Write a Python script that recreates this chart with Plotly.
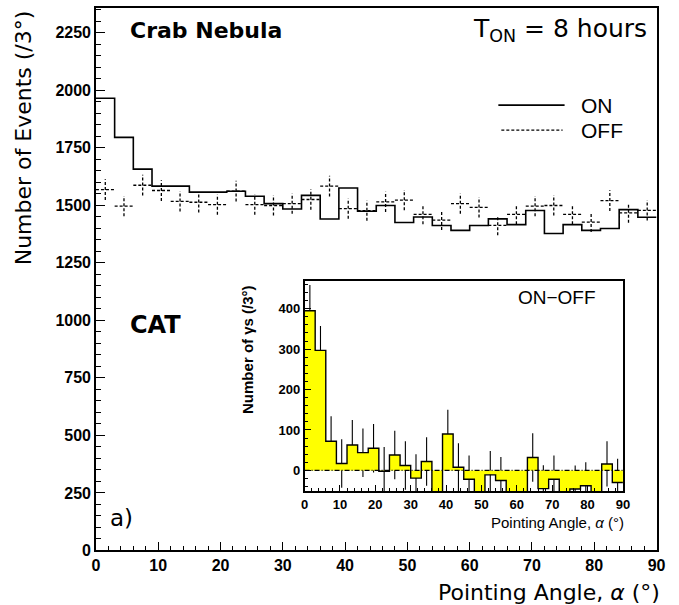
import plotly.graph_objects as go

# ---------------- data ----------------
angle_edges = [0, 3, 6, 9, 12, 15, 18, 21, 24, 27, 30, 33, 36, 39, 42, 45,
               48, 51, 54, 57, 60, 63, 66, 69, 72, 75, 78, 81, 84, 87, 90]

on_counts = [1965, 1795, 1657, 1583, 1583, 1557, 1557, 1561, 1539, 1507,
             1484, 1543, 1440, 1575, 1474, 1499, 1425, 1449, 1412, 1391,
             1412, 1441, 1416, 1477, 1377, 1416, 1391, 1399, 1481, 1448]

off_counts = [1568, 1496, 1587, 1564, 1517, 1513, 1503, 1561, 1503, 1499,
              1507, 1525, 1583, 1485, 1477, 1515, 1522, 1460, 1435, 1507,
              1491, 1413, 1460, 1496, 1499, 1460, 1427, 1520, 1467, 1478]

off_errors = [45, 44, 45, 45, 44, 44, 44, 45, 44, 44,
              44, 44, 45, 44, 44, 44, 44, 43, 43, 44,
              44, 43, 43, 44, 44, 43, 43, 45, 43, 44]

excess = [395, 297, 72, 17, 63, 44, 55, -2, 38, 12,
          -19, 22, -143, 90, 8, -22, -97, -11, -25, -116,
          -79, 32, -45, -22, -122, -46, -38, -121, 16, -30]

excess_errors = [64, 60, 62, 60, 62, 60, 60, 60, 60, 60,
                 59, 60, 59, 60, 59, 59, 59, 59, 58, 58,
                 58, 60, 58, 59, 58, 58, 58, 58, 56, 59]

main_yticks = [0, 250, 500, 750, 1000, 1250, 1500, 1750, 2000, 2250]
inset_yticks = [0, 100, 200, 300, 400]
xticks = [0, 10, 20, 30, 40, 50, 60, 70, 80, 90]

# ---------------- geometry helpers ----------------
W, H = 679, 605
KX, KY = 1.008, 1.016
def px(x):
    return min(1.0, x * KX / W)
def py(y):
    return max(0.0, 1 - y * KY / H)

FONT = "Liberation Sans"
TFONT = "DejaVu Sans"

fig = go.Figure()

# ON histogram (step line)
fig.add_trace(go.Scatter(
    x=angle_edges, y=on_counts + [on_counts[-1]],
    mode="lines", line=dict(color="black", width=1.6, shape="hv"),
    xaxis="x", yaxis="y", showlegend=False, hoverinfo="skip"))

# OFF histogram: dashed crosses
ox, oy = [], []
for i, v in enumerate(off_counts):
    lo, hi = angle_edges[i], angle_edges[i + 1]
    c = (lo + hi) / 2
    e = off_errors[i]
    ox += [lo, hi, None, c, c, None]
    oy += [v, v, None, v - e, v + e, None]
fig.add_trace(go.Scatter(
    x=ox, y=oy, mode="lines",
    line=dict(color="black", width=1.3, dash="3px,2px"),
    xaxis="x", yaxis="y", showlegend=False, hoverinfo="skip"))

# Inset: error bars first (covered by fill where overlapping)
ex, ey = [], []
for i, v in enumerate(excess):
    c = (angle_edges[i] + angle_edges[i + 1]) / 2
    e = excess_errors[i]
    ex += [c, c, None]
    ey += [v - e, v + e, None]
fig.add_trace(go.Scatter(
    x=ex, y=ey, mode="lines", line=dict(color="black", width=1.1),
    xaxis="x2", yaxis="y2", showlegend=False, hoverinfo="skip"))

# Inset: filled ON-OFF histogram
fig.add_trace(go.Scatter(
    x=angle_edges, y=excess + [excess[-1]],
    mode="lines", line=dict(color="black", width=1.4, shape="hv"),
    fill="tozeroy", fillcolor="#FFFF00",
    xaxis="x2", yaxis="y2", showlegend=False, hoverinfo="skip"))

# Inset: zero line (dash-dot)
fig.add_trace(go.Scatter(
    x=[angle_edges[0], angle_edges[-1]], y=[0, 0], mode="lines",
    line=dict(color="black", width=1.1, dash="5px,2px,1px,2px"),
    xaxis="x2", yaxis="y2", showlegend=False, hoverinfo="skip"))

axis_common = dict(showgrid=False, zeroline=False, showline=True, mirror=True,
                   linecolor="black", linewidth=1.5, ticks="inside",
                   tickcolor="black", tickwidth=1)

fig.update_layout(
    autosize=True,
    margin=dict(l=0, r=0, t=0, b=0),
    paper_bgcolor="white", plot_bgcolor="white",
    showlegend=False,
    xaxis=dict(domain=[px(93), px(660)], range=[0, 90], anchor="y",
               tickvals=xticks, ticklen=9,
               minor=dict(ticks="inside", ticklen=5, dtick=2, tick0=0,
                          tickcolor="black", tickwidth=1),
               tickfont=dict(family=FONT, size=16, color="black", weight="bold"),
               **axis_common),
    yaxis=dict(domain=[py(550), py(8)], range=[0, 2357], anchor="x",
               tickvals=main_yticks, ticklen=9,
               minor=dict(ticks="inside", ticklen=5, dtick=50, tick0=0,
                          tickcolor="black", tickwidth=1),
               tickfont=dict(family=FONT, size=16, color="black", weight="bold"),
               **axis_common),
    xaxis2=dict(domain=[px(304), px(626)], range=[0, 90], anchor="y2",
                tickvals=xticks, ticklen=7,
                minor=dict(ticks="inside", ticklen=4, dtick=2, tick0=0,
                           tickcolor="black", tickwidth=1),
                tickfont=dict(family=FONT, size=13, color="black", weight="bold"),
                **axis_common),
    yaxis2=dict(domain=[py(491), py(281)], range=[-52, 468], anchor="x2",
                tickvals=inset_yticks, ticklen=7,
                minor=dict(ticks="inside", ticklen=4, dtick=20, tick0=0,
                           tickcolor="black", tickwidth=1),
                tickfont=dict(family=FONT, size=13, color="black", weight="bold"),
                **axis_common),
)

ann = []
def text(x, y, s, size, xanchor="left", yanchor="middle", bold=False, angle=0,
         family=FONT):
    ann.append(dict(x=px(x), y=py(y), xref="paper", yref="paper", text=s,
                    showarrow=False, xanchor=xanchor, yanchor=yanchor,
                    textangle=angle,
                    font=dict(family=family, size=size, color="black",
                              weight="bold" if bold else "normal")))

text(20, 8, "Number of Events (/3°)", 22, xanchor="center", yanchor="top",
     angle=-90, family=TFONT)
text(666, 592, "Pointing Angle, <i>α</i> (°)", 22, xanchor="right", family=TFONT)
text(125, 30, "Crab Nebula", 22, bold=True, family=TFONT)
text(652, 30, "T<sub>ON</sub> = 8 hours", 25, xanchor="right", family=TFONT)
text(582, 105, "ON", 21)
text(582, 130, "OFF", 21)
text(125, 325, "CAT", 24, bold=True, family=TFONT)
text(105, 518, "a)", 23, family=TFONT)
text(518, 297, "ON−OFF", 19)
text(247, 283, "Number of γs (/3°)", 15, xanchor="center", yanchor="top",
     angle=-90, bold=True)
text(629, 522, "Pointing Angle, <i>α</i> (°)", 15, xanchor="right")

fig.update_layout(annotations=ann)

fig.add_shape(type="line", xref="paper", yref="paper",
              x0=px(500), x1=px(567), y0=py(105), y1=py(105),
              line=dict(color="black", width=1.6))
fig.add_shape(type="line", xref="paper", yref="paper",
              x0=px(503), x1=px(565), y0=py(130), y1=py(130),
              line=dict(color="black", width=1.3, dash="3px,2px"))

fill_script = (
    "document.documentElement.style.overflow='hidden';"
    "document.body.style.margin='0';"
    "document.body.style.overflow='hidden';"
    "var gd=document.getElementById('{plot_id}');"
    "gd.style.position='fixed';gd.style.left='0px';gd.style.top='0px';"
    "gd.style.width='100vw';gd.style.height='100vh';"
    "Plotly.Plots.resize(gd);"
)

fig.write_html("out.html", config={"displayModeBar": False, "responsive": True},
               default_width="100vw", default_height="100vh",
               post_script=fill_script)
